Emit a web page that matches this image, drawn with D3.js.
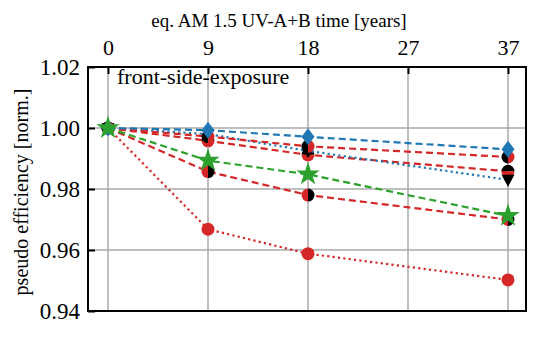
<!DOCTYPE html>
<html><head><meta charset="utf-8">
<script src="https://cdn.jsdelivr.net/npm/d3@7"></script>
<style>body{margin:0;background:#fff}</style>
</head><body>
<script>
const xLabels = ["0","9","18","27","37"];
const xIndex = [0,1,2,3,4];
const yTicks = [0.94,0.96,0.98,1.00,1.02];
const blueDiamond = [1.000, 0.9993, 0.9971, 0.9930];
const blueDotted  = [1.000, 0.9980, 0.9925, 0.9830];
const redDashedA  = [1.000, 0.9972, 0.9940, 0.9905];
const redDashedB  = [1.000, 0.9958, 0.9912, 0.9858];
const greenStar   = [1.000, 0.9893, 0.9848, 0.9712];
const redDashedC  = [1.000, 0.9857, 0.9780, 0.9700];
const redDotted   = [1.000, 0.9668, 0.9588, 0.9502];
const seriesX = [0,1,2,4];

(function(){
const W=554,H=342;
const FONT="'Liberation Serif', 'DejaVu Serif', serif";
const svg=d3.select("body").append("svg").attr("width",W).attr("height",H);
const L=88,R=526,T=67,B=311;
const x=d3.scaleLinear().domain([0,4]).range([108,508]);
const y=d3.scaleLinear().domain([0.94,1.02]).range([B,T]);
const blue="#1f77b4",red="#d62728",green="#2ca02c",grid="#aaaaaa";

svg.append("g").selectAll("line").data(xIndex).join("line")
  .attr("x1",d=>x(d)).attr("x2",d=>x(d)).attr("y1",T).attr("y2",B)
  .attr("stroke",grid).attr("stroke-width",1.5);
svg.append("g").selectAll("line").data([0.96,0.98,1.00]).join("line")
  .attr("x1",L).attr("x2",R).attr("y1",d=>y(d)).attr("y2",d=>y(d))
  .attr("stroke",grid).attr("stroke-width",1.5);

const topAx=svg.append("g").attr("transform",`translate(0,${T})`)
  .call(d3.axisTop(x).tickValues(xIndex).tickFormat((d,i)=>xLabels[i]).tickSize(-7).tickPadding(12));
topAx.attr("font-family",FONT).attr("font-size",22);
topAx.select(".domain").remove();
topAx.selectAll("line").attr("stroke","#000").attr("stroke-width",2);
topAx.selectAll("text").attr("fill","#000").attr("font-family",FONT).attr("font-size",22);
const leftAx=svg.append("g").attr("transform",`translate(${L},0)`)
  .call(d3.axisLeft(y).tickValues(yTicks).tickFormat(d3.format(".2f")).tickSize(-7).tickPadding(8));
leftAx.attr("font-family",FONT).attr("font-size",23);
leftAx.select(".domain").remove();
leftAx.selectAll("line").attr("stroke","#000").attr("stroke-width",2);
leftAx.selectAll("text").attr("fill","#000").attr("font-family",FONT).attr("font-size",23);

svg.append("text").attr("x",279).attr("y",27).attr("text-anchor","middle").attr("font-family",FONT).attr("font-size",19).text("eq. AM 1.5 UV-A+B time [years]");
svg.append("text").attr("transform",`translate(28,${(T+B)/2+3}) rotate(-90)`).attr("text-anchor","middle").attr("font-family",FONT).attr("font-size",20).text("pseudo efficiency [norm.]");
svg.append("text").attr("x",117).attr("y",84).attr("font-family",FONT).attr("font-size",22).text("front-side-exposure");

const line=d3.line().x((d,i)=>x(seriesX[i])).y(d=>y(d));
const plot=svg.append("g");
const arc=d3.arc().innerRadius(0).outerRadius(6.5);

function halfCircle(g,cx,cy,orient,c1,c2){
  const a = orient==="lr" ? [[Math.PI,2*Math.PI],[0,Math.PI]] : [[-Math.PI/2,Math.PI/2],[Math.PI/2,1.5*Math.PI]];
  g.append("path").attr("transform",`translate(${cx},${cy})`).attr("d",arc({startAngle:a[0][0],endAngle:a[0][1]})).attr("fill",c1);
  g.append("path").attr("transform",`translate(${cx},${cy})`).attr("d",arc({startAngle:a[1][0],endAngle:a[1][1]})).attr("fill",c2);
}
function drawSeries(vals,color,dash,marker){
  plot.append("path").datum(vals).attr("d",line).attr("fill","none").attr("stroke",color)
    .attr("stroke-width",2.2).attr("stroke-dasharray",dash);
  const g=plot.append("g");
  vals.forEach((v,i)=>marker(g,x(seriesX[i]),y(v)));
}
const circle=(c)=>(g,cx,cy)=>g.append("circle").attr("cx",cx).attr("cy",cy).attr("r",6.5).attr("fill",c);
const half=(o,c1,c2)=>(g,cx,cy)=>halfCircle(g,cx,cy,o,c1,c2);
const diamond=(g,cx,cy)=>g.append("path").attr("transform",`translate(${cx},${cy})`).attr("d","M0,-8.5L6.5,0L0,8.5L-6.5,0Z").attr("fill",blue);
const triDown=(g,cx,cy)=>g.append("path").attr("transform",`translate(${cx},${cy})`).attr("d","M-6.5,-5L6.5,-5L0,7Z").attr("fill","#000");
const star=(g,cx,cy)=>g.append("path").attr("transform",`translate(${cx},${cy})`).attr("d",d3.symbol(d3.symbolStar,170)()).attr("fill",green);

drawSeries(redDotted,red,"2.2,3.2",circle(red));
drawSeries(redDashedC,red,"7,4",half("lr",red,"#000"));
drawSeries(redDashedB,red,"7,4",half("tb","#000",red));
drawSeries(blueDotted,blue,"2.2,3.2",triDown);
drawSeries(redDashedA,red,"7,4",half("lr","#000",red));
drawSeries(blueDiamond,blue,"7,4",diamond);
drawSeries(greenStar,green,"7,4",star);

svg.append("rect").attr("x",L).attr("y",T).attr("width",R-L).attr("height",B-T)
  .attr("fill","none").attr("stroke","#000").attr("stroke-width",2);
})();
</script>
</body></html>
